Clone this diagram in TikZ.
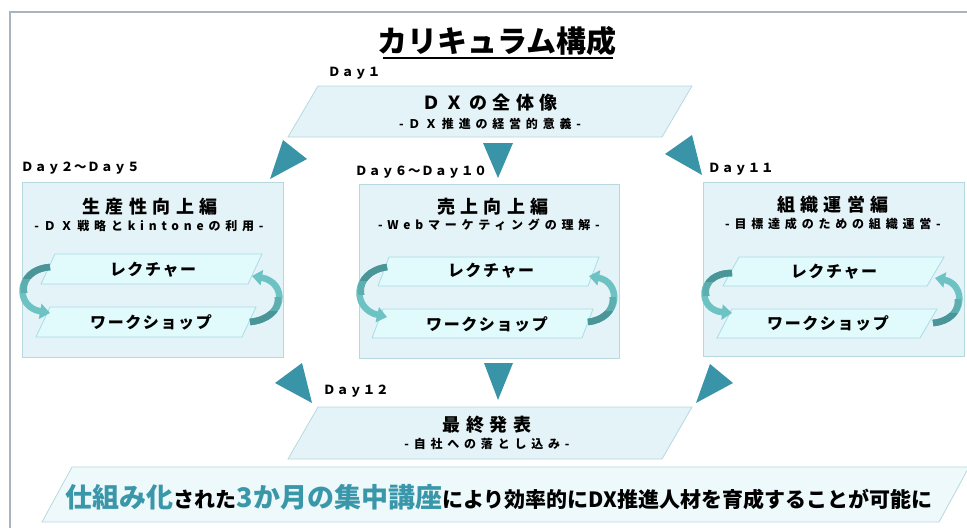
\documentclass[tikz,border=0pt]{standalone}
\usepackage{fontspec}
\setmainfont{Noto Sans CJK JP}
\newfontfamily\jpT{Noto Sans CJK JP}[LetterSpace=30]
\newfontfamily\jpS{Noto Sans CJK JP}[LetterSpace=40]
\newfontfamily\jpL{Noto Sans CJK JP}[LetterSpace=10]
\newfontfamily\jpD{Noto Sans CJK JP}[LetterSpace=6]
\usetikzlibrary{arrows.meta}
\definecolor{framecol}{HTML}{AAB4BF}
\definecolor{boxbg}{HTML}{E4F3F7}
\definecolor{boxbd}{HTML}{B7D8DF}
\definecolor{parabg}{HTML}{E1FAFC}
\definecolor{parabd}{HTML}{A9DCE5}
\definecolor{bannerbg}{HTML}{EEF9FB}
\definecolor{tricol}{HTML}{3994A7}
\definecolor{accent}{HTML}{3A97AA}
\definecolor{arrdark}{HTML}{4A9597}
\definecolor{arrmid}{HTML}{5CAEAF}
\definecolor{arrlight}{HTML}{6DC2C4}
\tikzset{
  boxfill/.style={fill=boxbg, draw=boxbd, line width=0.8pt},
  parafill/.style={fill=parabg, draw=parabd, line width=0.8pt},
  tri/.style={fill=tricol},
  daylbl/.style={anchor=west, inner sep=0, font=\jpD\bfseries\fontsize{12.5}{12.5}\selectfont},
  ttl/.style={inner sep=0, font=\jpT\bfseries\fontsize{18}{18}\selectfont},
  subttl/.style={inner sep=0, font=\jpS\bfseries\fontsize{12}{12}\selectfont},
  lbl/.style={inner sep=0, font=\jpL\bfseries\fontsize{16}{16}\selectfont},
  arr/.style={line width=6.5pt, -{Triangle[length=10pt,width=15pt]}},
  arrplain/.style={line width=6.5pt},
}
\begin{document}
\begin{tikzpicture}[x=1pt,y=-1pt]
\useasboundingbox (0,0) rectangle (967,528);
% frame
\draw[framecol, line width=2pt] (10,528) -- (10,12) -- (967,12);
% title
\node[inner sep=0, font=\bfseries\fontsize{30}{30}\selectfont] (title) at (497,41) {カリキュラム構成};
\draw[line width=2pt] (383,58) -- (613,58);

% top parallelogram
\draw[boxfill] (318,86) -- (692,86) -- (662,137) -- (288,137) -- cycle;
\node[daylbl] (d1) at (328,73) {Ｄａｙ１};
\node[ttl] (t1) at (490,103) {ＤＸの全体像};
\node[subttl] (s1) at (490,124) {-ＤＸ推進の経営的意義-};

% bottom parallelogram
\draw[boxfill] (318,407) -- (692,407) -- (662,459) -- (288,459) -- cycle;
\node[daylbl] (d12) at (323,391) {Ｄａｙ１２};
\node[ttl] (t12) at (487,425) {最終発表};
\node[subttl] (s12) at (487,444) {-自社への落とし込み-};

% left box
\draw[boxfill] (22,182) rectangle (283,357);
\node[daylbl] (d2) at (21,168) {Ｄａｙ２～Ｄａｙ５};
\node[ttl] (t2) at (150,207) {生産性向上編};
\node[subttl] (s2) at (149,226) {-ＤＸ戦略とkintoneの利用-};
\draw[parafill] (55,254) -- (262,254) -- (248,284) -- (41,284) -- cycle;
\draw[parafill] (50,307) -- (256,307) -- (242,337) -- (36,337) -- cycle;
\node[lbl] (lecA) at (153,270) {レクチャー};
\node[lbl] (wsA) at (151,322) {ワークショップ};

% middle box
\draw[boxfill] (359,184) rectangle (619,358);
\node[daylbl] (d6) at (355,172) {Ｄａｙ６～Ｄａｙ１０};
\node[ttl] (t6) at (493,207) {売上向上編};
\node[subttl] (s6) at (489,225) {-Webマーケティングの理解-};
\draw[parafill] (389,257) -- (599,257) -- (588,286) -- (378,286) -- cycle;
\draw[parafill] (383,309) -- (593,309) -- (582,338) -- (372,338) -- cycle;
\node[lbl] (lecB) at (491,271) {レクチャー};
\node[lbl] (wsB) at (487,324) {ワークショップ};

% right box
\draw[boxfill] (703,182) rectangle (964,356);
\node[daylbl] (d11) at (708,169) {Ｄａｙ１１};
\node[ttl] (t11) at (833,205) {組織運営編};
\node[subttl] (s11) at (833,224) {-目標達成のための組織運営-};
\draw[parafill] (739,257) -- (944,257) -- (927,286) -- (723,286) -- cycle;
\draw[parafill] (732,309) -- (937,309) -- (920,338) -- (717,338) -- cycle;
\node[lbl] (lecC) at (834,272) {レクチャー};
\node[lbl] (wsC) at (828,323) {ワークショップ};

% arrow end coordinates
\coordinate (aL1) at (50,267);  \coordinate (aL2) at (50,313);
\coordinate (aR1) at (250,322); \coordinate (aR2) at (252,276);
\coordinate (bL1) at (387,267); \coordinate (bL2) at (387,317);
\coordinate (bR1) at (588,322); \coordinate (bR2) at (589,276);
\coordinate (cL1) at (732,273); \coordinate (cL2) at (732,313);
\coordinate (cR1) at (933,323); \coordinate (cR2) at (935,278);

% left-side arrows (dark at top)
\foreach \p/\q/\c/\m in {aL1/aL2/15/290, bL1/bL2/352/292, cL1/cL2/697/293}{
  \draw[arr, arrlight] (\p) .. controls (\c,{\m-20}) and (\c,{\m+17}) .. (\q);
  \begin{scope}
    \clip (\c-20,200) rectangle (\c+60,\m+2);
    \draw[arrplain, arrmid] (\p) .. controls (\c,{\m-20}) and (\c,{\m+17}) .. (\q);
  \end{scope}
  \begin{scope}
    \clip (\c-20,200) rectangle (\c+60,\m-12);
    \draw[arrplain, arrdark] (\p) .. controls (\c,{\m-20}) and (\c,{\m+17}) .. (\q);
  \end{scope}
}
% right-side arrows (dark at bottom)
\foreach \p/\q/\c/\m in {aR1/aR2/287/299, bR1/bR2/621/299, cR1/cR2/966/301}{
  \draw[arr, arrlight] (\p) .. controls (\c,{\m+19}) and (\c,{\m-17}) .. (\q);
  \begin{scope}
    \clip (\c-60,\m-2) rectangle (\c+20,360);
    \draw[arrplain, arrmid] (\p) .. controls (\c,{\m+19}) and (\c,{\m-17}) .. (\q);
  \end{scope}
  \begin{scope}
    \clip (\c-60,\m+12) rectangle (\c+20,360);
    \draw[arrplain, arrdark] (\p) .. controls (\c,{\m+19}) and (\c,{\m-17}) .. (\q);
  \end{scope}
}

% triangles
\fill[tri] (283,140) -- (307,159) -- (270,179) -- cycle;
\fill[tri] (483,143) -- (513,143) -- (498,178) -- cycle;
\fill[tri] (692,135) -- (665,154) -- (702,175) -- cycle;
\fill[tri] (302,363) -- (275,383) -- (312,403) -- cycle;
\fill[tri] (484,363) -- (513,363) -- (498,400) -- cycle;
\fill[tri] (710,364) -- (733,383) -- (696,403) -- cycle;

% banner
\draw[fill=bannerbg, draw=boxbd, line width=0.8pt] (72,467) -- (969,467) -- (939,522) -- (42,522) -- cycle;
\node[inner sep=0] (msg) at (499,497) {\bfseries{\color{accent}\fontsize{27}{27}\selectfont 仕組み化}{\fontsize{21}{21}\selectfont された}{\color{accent}\fontsize{27}{27}\selectfont 3か月の集中講座}{\fontsize{21}{21}\selectfont により効率的にDX推進人材を育成することが可能に}};
\end{tikzpicture}
\end{document}
